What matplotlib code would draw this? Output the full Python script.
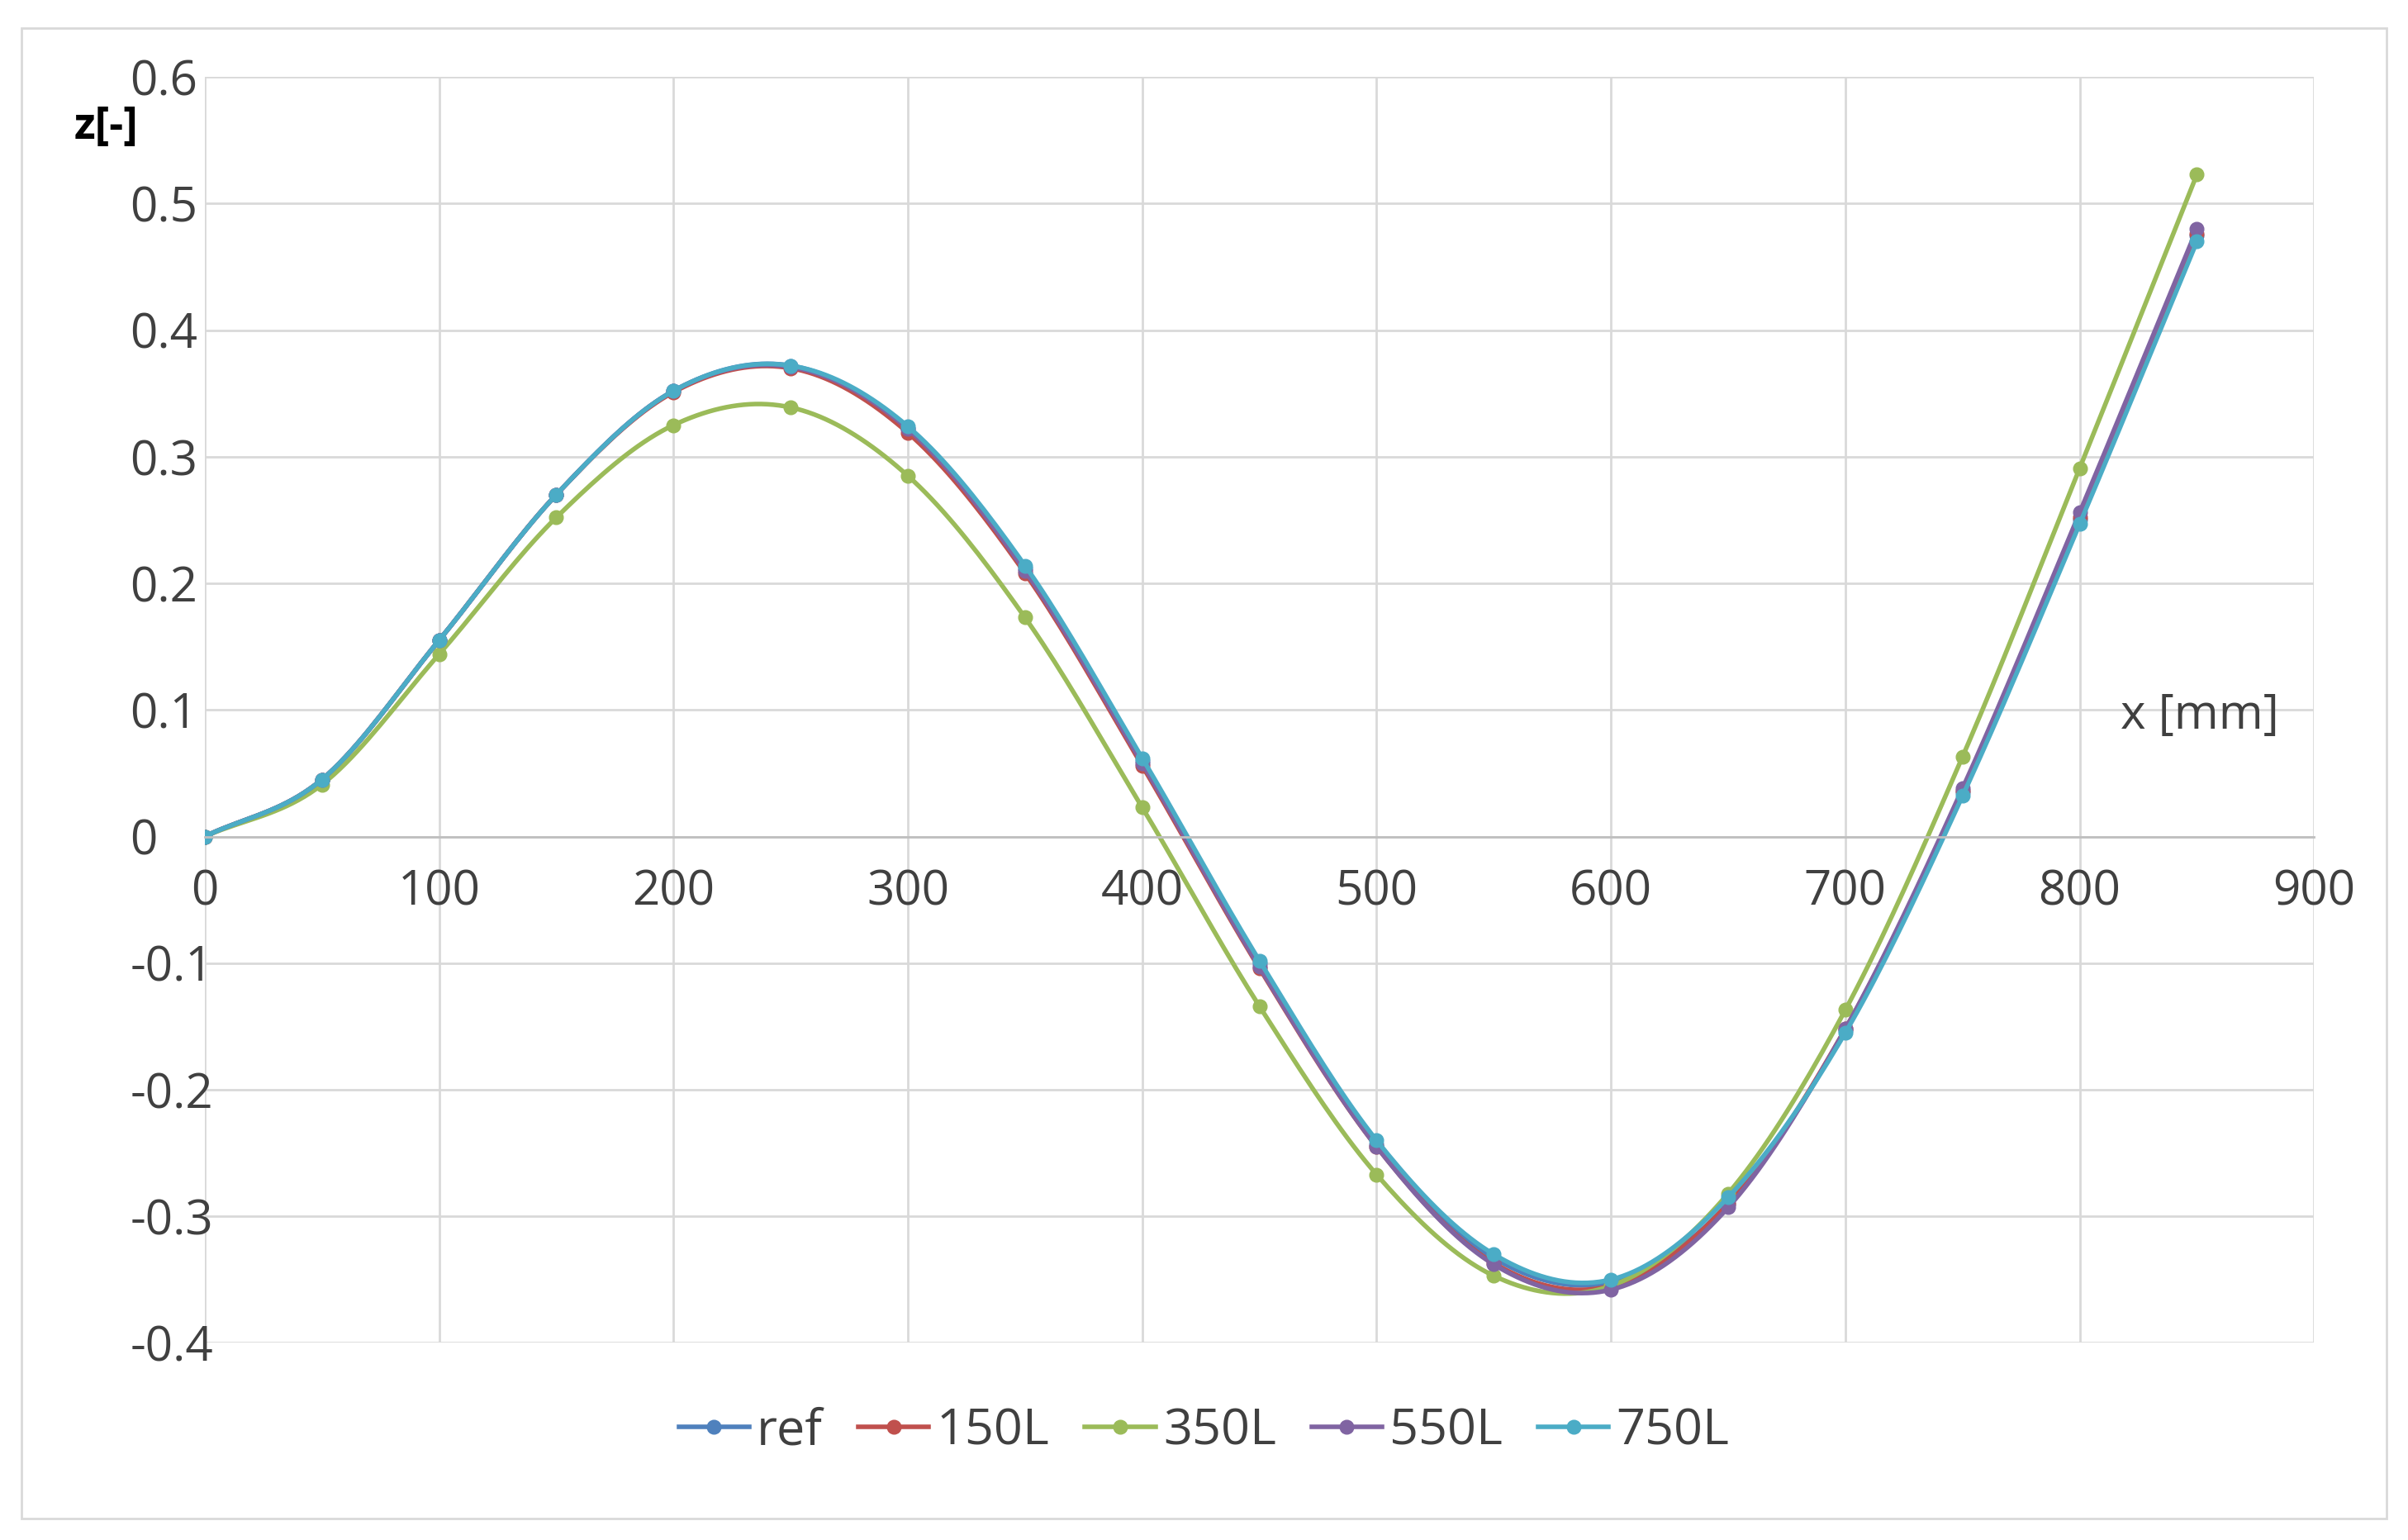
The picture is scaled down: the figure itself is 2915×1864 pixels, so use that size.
import numpy as np
import matplotlib.pyplot as plt
from matplotlib.patches import Rectangle

x = list(range(0, 851, 50))
ref = [0, 0.045, 0.155, 0.27, 0.352, 0.372, 0.322, 0.212, 0.06, -0.1, -0.243, -0.333, -0.352, -0.29, -0.153, 0.035, 0.25, 0.475]
l150 = [0, 0.045, 0.155, 0.27, 0.351, 0.370, 0.319, 0.208, 0.056, -0.104, -0.245, -0.337, -0.355, -0.29, -0.152, 0.036, 0.252, 0.476]
l350 = [0, 0.041, 0.144, 0.252, 0.325, 0.339, 0.285, 0.173, 0.023, -0.134, -0.267, -0.347, -0.355, -0.282, -0.137, 0.063, 0.291, 0.523]
l550 = [0, 0.045, 0.155, 0.27, 0.352, 0.371, 0.322, 0.21, 0.058, -0.103, -0.245, -0.338, -0.358, -0.293, -0.152, 0.038, 0.256, 0.48]
l750 = [0, 0.045, 0.155, 0.27, 0.352, 0.372, 0.324, 0.214, 0.062, -0.098, -0.24, -0.33, -0.35, -0.285, -0.155, 0.032, 0.247, 0.47]
names = ['ref', '150L', '350L', '550L', '750L']
colors = ['#4F81BD', '#C0504D', '#9BBB59', '#8064A2', '#4BACC6']

def smooth(xs, ys, n=20):
    # Catmull-Rom, similar to Excel smoothed lines
    xs = np.asarray(xs, float); ys = np.asarray(ys, float)
    px = np.r_[2*xs[0]-xs[1], xs, 2*xs[-1]-xs[-2]]
    py = np.r_[2*ys[0]-ys[1], ys, 2*ys[-1]-ys[-2]]
    ox, oy = [], []
    t = np.linspace(0, 1, n, endpoint=False)
    for i in range(1, len(px)-2):
        for p, o in ((px, ox), (py, oy)):
            p0, p1, p2, p3 = p[i-1], p[i], p[i+1], p[i+2]
            o.extend(0.5*((2*p1) + (-p0+p2)*t + (2*p0-5*p1+4*p2-p3)*t**2 + (-p0+3*p1-3*p2+p3)*t**3))
    ox.append(xs[-1]); oy.append(ys[-1])
    return ox, oy

plt.rcParams['font.family'] = ['Open Sans', 'DejaVu Sans']
fig = plt.figure(figsize=(29.15, 18.64), dpi=100)
fig.patches.append(Rectangle((0.009, 0.014), 0.982, 0.968, transform=fig.transFigure,
                             fill=False, edgecolor='#d9d9d9', linewidth=2))
ax = fig.add_axes([0.085, 0.128, 0.876, 0.822])

for ys, nm, c in zip([ref, l150, l350, l550, l750], names, colors):
    sx, sy = smooth(x, ys)
    ax.plot(sx, sy, color=c, lw=4)
    ax.plot(x, ys, 'o', color=c, ms=12)
    ax.plot([], [], '-o', color=c, lw=4, ms=12, label=nm)

ax.set_xlim(0, 900)
ax.set_ylim(-0.4, 0.6)
ax.set_xticks(range(0, 901, 100))
ax.set_yticks(np.arange(-0.4, 0.61, 0.1))
ax.set_yticklabels(['-0.4', '-0.3', '-0.2', '-0.1', '0', '0.1', '0.2', '0.3', '0.4', '0.5', '0.6'])
ax.grid(True, color='#d9d9d9', lw=2)
ax.set_axisbelow(True)
for s in ['top', 'right', 'left']:
    ax.spines[s].set_visible(False)
ax.spines['bottom'].set_position(('data', 0))
ax.spines['bottom'].set_color('#bfbfbf')
ax.spines['bottom'].set_linewidth(2)
ax.tick_params(length=0, labelsize=42, colors='#404040')
ax.tick_params(axis='x', pad=28)
ax.tick_params(axis='y', pad=65)
for lb in ax.get_yticklabels():
    lb.set_horizontalalignment('left')
ax.text(885, 0.095, 'x [mm]', fontsize=42, color='#404040', ha='right', va='center')
ax.text(-0.062, 0.56, 'z[-]', transform=ax.get_yaxis_transform(), fontsize=38,
        ha='left', va='center', fontweight='bold', color='black')

fig.legend(loc='lower center', bbox_to_anchor=(0.5, 0.025), ncol=5, frameon=False,
           fontsize=44, labelcolor='#404040', handlelength=1.4, handletextpad=0.15, columnspacing=0.7)
fig.savefig('out.png')
